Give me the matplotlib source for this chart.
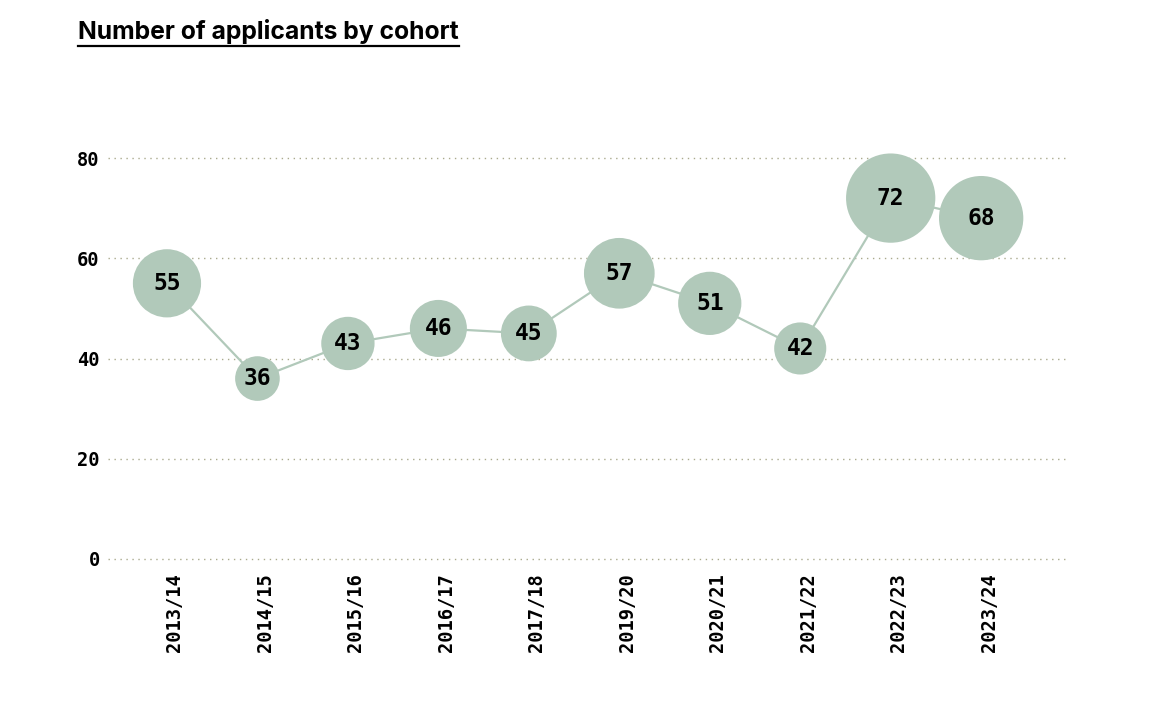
import numpy as np
import matplotlib.pyplot as plt
import matplotlib.transforms as mtransforms
from matplotlib.lines import Line2D

cohorts = ["2013/14", "2014/15", "2015/16", "2016/17", "2017/18",
           "2019/20", "2020/21", "2021/22", "2022/23", "2023/24"]
applicants = [55, 36, 43, 46, 45, 57, 51, 42, 72, 68]
y_ticks = [0, 20, 40, 60, 80]

BUBBLE = "#b1c9ba"
GRID = "#aaaa8e"
MONO = "DejaVu Sans Mono"

W, H, DPI = 1173, 702, 100
fig = plt.figure(figsize=(W / DPI, H / DPI), dpi=DPI)
ax = fig.add_axes([108 / W, 1 - 559 / H, (1068 - 108) / W, (559 - 158) / H])

x = np.arange(len(cohorts))
y = np.array(applicants)

# bubble radius grows linearly with value (px), convert to marker area in pt^2
radius_px = 0.62 * y
sizes = (2 * radius_px * 72 / DPI) ** 2

ax.plot(x, y, color=BUBBLE, lw=1.6, zorder=2)
ax.scatter(x, y, s=sizes, color=BUBBLE, edgecolor="none", zorder=3,
           clip_on=False)
for xi, yi in zip(x, y):
    ax.text(xi, yi, str(yi), ha="center", va="center", fontsize=16.5,
            fontweight="bold", family=MONO, color="black", zorder=4)

ax.set_xlim(-0.652, 9.96)
ax.set_ylim(0, 80)
ax.set_yticks(y_ticks)
ax.set_yticklabels([str(t) for t in y_ticks], family=MONO, fontweight="bold",
                   fontsize=13.5)
ax.set_xticks(x)
ax.set_xticklabels(cohorts, rotation=90, family=MONO, fontweight="bold",
                   fontsize=13.5)
ax.tick_params(length=0)
ax.tick_params(axis="y", pad=6)
ax.tick_params(axis="x", pad=10)

# x labels sit a little right of their tick
shift = mtransforms.ScaledTranslation(8 / DPI, 0, fig.dpi_scale_trans)
for lbl in ax.get_xticklabels():
    lbl.set_transform(lbl.get_transform() + shift)

for t in y_ticks:
    ax.axhline(t, color=GRID, lw=1.0, ls=(0, (1, 3.3)), zorder=1,
               clip_on=False)
for s in ax.spines.values():
    s.set_visible(False)

title = fig.text(78 / W, 1 - 32 / H, "Number of applicants by cohort",
                 family="Inter", fontweight="bold", fontsize=17.8,
                 ha="left", va="center")
fig.canvas.draw()
bb = title.get_window_extent()
fig.add_artist(Line2D([bb.x0 / W, bb.x1 / W], [1 - 46 / H, 1 - 46 / H],
                      transform=fig.transFigure, color="black", lw=1.6))

fig.savefig("out.png", dpi=DPI)
